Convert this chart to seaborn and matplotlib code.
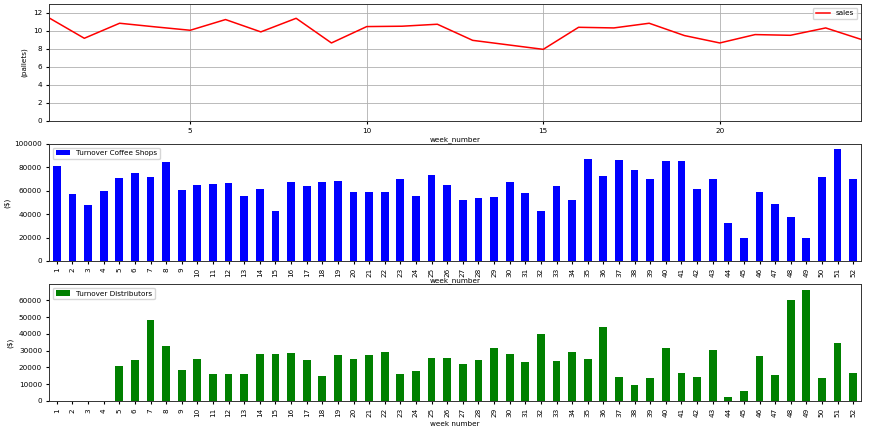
import matplotlib
matplotlib.use("Agg")
import matplotlib.pyplot as plt
import seaborn as sns
import pandas as pd

# weekly data
sales_weeks = list(range(1, 25))
sales = [11.45, 9.18, 10.85, 10.45, 10.07, 11.26, 9.89, 11.4, 8.66, 10.48, 10.52, 10.74,
         8.95, 8.45, 7.95, 10.4, 10.33, 10.85, 9.48, 8.66, 9.59, 9.51, 10.33, 9.06]

weeks = list(range(1, 53))
coffee_shops = [81100, 56800, 47900, 59900, 71100, 74800, 71700, 84900, 60500, 64800,
                65400, 66800, 55300, 61100, 43000, 67400, 64200, 67400, 67900, 58500,
                59100, 59100, 69700, 55900, 73700, 65000, 51900, 54200, 54800, 67400,
                58200, 42400, 64200, 51900, 86900, 72200, 86300, 78000, 70000, 85700,
                85100, 61900, 70000, 32400, 19800, 59300, 48700, 37600, 19200, 72000,
                95500, 70000]
distributors = [0, 0, 0, 0, 20900, 24700, 48200, 32700, 18300, 25100,
                15900, 16300, 16300, 28100, 28100, 28700, 24300, 14700, 27700, 25100,
                27700, 29100, 15900, 17700, 25700, 25700, 22100, 24500, 31700, 28300,
                23500, 39700, 23900, 29300, 25100, 44400, 14300, 9600, 13600, 31300,
                16900, 14300, 30500, 2200, 6000, 26700, 15500, 60200, 66400, 13600,
                34500, 16500]

df_sales = pd.DataFrame({"week_number": sales_weeks, "sales": sales})
df_turn = pd.DataFrame({"week_number": weeks, "coffee": coffee_shops, "dist": distributors})

plt.rcParams["font.size"] = 5.2
plt.rcParams["axes.linewidth"] = 0.7
plt.rcParams["xtick.major.size"] = 2.5
plt.rcParams["ytick.major.size"] = 2.5
plt.rcParams["xtick.major.pad"] = 2.5
plt.rcParams["ytick.major.pad"] = 2.5

fig, ax = plt.subplots(3, 1, figsize=(8.75, 4.33), dpi=100)
fig.subplots_adjust(left=0.056, right=0.984, top=0.991, bottom=0.074, hspace=0.197)

# sales line
sns.lineplot(data=df_sales, x="week_number", y="sales", color="red", linewidth=1.1,
             label="sales", ax=ax[0])
ax[0].set_xlim(1, 24)
ax[0].set_ylim(0, 13)
ax[0].set_xticks([5, 10, 15, 20])
ax[0].grid(True, color="#b0b0b0", linewidth=0.6)
ax[0].set_ylabel("(pallets)")
ax[0].set_xlabel("week_number", labelpad=2)
ax[0].legend(loc="upper right")

# coffee shop turnover
sns.barplot(data=df_turn, x="week_number", y="coffee", color="blue", saturation=1,
            width=0.5, label="Turnover Coffee Shops", ax=ax[1])
ax[1].set_xlim(-0.5, 51.5)
ax[1].set_ylim(0, 100000)
ax[1].set_ylabel("($)", labelpad=3)
ax[1].set_xlabel("week_number", labelpad=0)
ax[1].legend(loc="upper left")

# distributor turnover
sns.barplot(data=df_turn, x="week_number", y="dist", color="green", saturation=1,
            width=0.5, label="Turnover Distributors", ax=ax[2])
ax[2].set_xlim(-0.5, 51.5)
ax[2].set_ylim(0, 69800)
ax[2].set_ylabel("($)")
ax[2].set_xlabel("week number", labelpad=3)
ax[2].legend(loc="upper left")

for a in ax[1:]:
    a.tick_params(axis="x", labelrotation=90)

for a in ax:
    for s in a.spines.values():
        s.set_color("#333333")

# keep the top x-label visible above the middle panel
ax[0].set_zorder(2)
ax[0].patch.set_alpha(0)
ax[1].set_zorder(1)

fig.savefig("out.png", dpi=100)
